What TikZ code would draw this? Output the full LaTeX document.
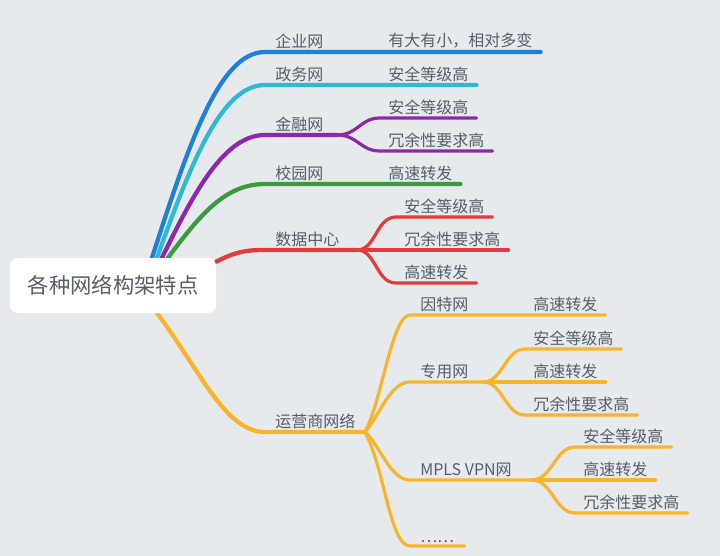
\documentclass[tikz,border=0pt]{standalone}
\usepackage{fontspec}
\setmainfont{Noto Sans CJK SC}
\usepackage{xcolor}
\usetikzlibrary{backgrounds}

\definecolor{bgc}{HTML}{E7EAED}
\definecolor{txt}{HTML}{555F68}
\definecolor{cblue}{HTML}{1E80DA}
\definecolor{ccyan}{HTML}{2DBAD2}
\definecolor{cpurple}{HTML}{8E27AC}
\definecolor{cgreen}{HTML}{3A9A3C}
\definecolor{cred}{HTML}{E23B3B}
\definecolor{corange}{HTML}{F8B42C}

\begin{document}
\begin{tikzpicture}[
    x=0.75pt, y=-0.75pt,
    font=\fontsize{12}{14}\selectfont, text=txt,
    root/.style={fill=white, rounded corners=6pt,
        minimum width=154.5pt, minimum height=41.25pt,
        font=\fontsize{16}{19}\selectfont},
    lbl/.style={anchor=south west, inner xsep=7.5pt, inner ysep=2.5pt},
    leaf/.style={anchor=south west, inner xsep=6pt, inner ysep=2.5pt},
    br/.style={draw=#1, line width=3.2pt, line cap=round},
    sub/.style={draw=#1, line width=2.4pt, line cap=round},
]
\useasboundingbox (0,0) rectangle (720,556);
\node[root] (root) at (113,285.5) {各种网络构架特点};
%% first level
\node[lbl] (ent)  at (265,52)  {企业网};
\node[lbl] (gov)  at (265,85)  {政务网};
\node[lbl] (fin)  at (265,135) {金融网};
\node[lbl] (cam)  at (265,184) {校园网};
\node[lbl] (dc)   at (265,250) {数据中心};
\node[lbl] (isp)  at (265,432) {运营商网络};
%% second level
\node[lbl] (inet) at (410,315) {因特网};
\node[lbl] (pri)  at (410,382) {专用网};
\node[lbl] (mpls) at (410,480) {MPLS VPN网};
\node[lbl] (more) at (410,546) {……};
%% leaves
\node[leaf] (ent-a)  at (380,52)  {有大有小，相对多变};
\node[leaf] (gov-a)  at (380,85)  {安全等级高};
\node[leaf] (fin-a)  at (380,118) {安全等级高};
\node[leaf] (fin-b)  at (380,151) {冗余性要求高};
\node[leaf] (cam-a)  at (380,184) {高速转发};
\node[leaf] (dc-a)   at (396,217) {安全等级高};
\node[leaf] (dc-b)   at (396,250) {冗余性要求高};
\node[leaf] (dc-c)   at (396,283) {高速转发};
\node[leaf] (inet-a) at (525,315) {高速转发};
\node[leaf] (pri-a)  at (525,349) {安全等级高};
\node[leaf] (pri-b)  at (525,382) {高速转发};
\node[leaf] (pri-c)  at (525,415) {冗余性要求高};
\node[leaf] (mpls-a) at (575,447) {安全等级高};
\node[leaf] (mpls-b) at (575,480) {高速转发};
\node[leaf] (mpls-c) at (575,513) {冗余性要求高};
%% junctions
\coordinate (fin-j)  at (337,135);
\coordinate (dc-j)   at (357,250);
\coordinate (isp-j)  at (365,432);
\coordinate (pri-j)  at (483,382);
\coordinate (mpls-j) at (532,480);

\begin{scope}[on background layer]
\fill[bgc] (0,0) rectangle (720,556);
%% branches
\draw[br=cblue]   ([xshift=29.25pt]root.north) .. controls (190,140) and (220,52) .. (ent.south west) -- (ent-a.south east);
\draw[br=ccyan]   ([xshift=33pt]root.north) .. controls (192,160) and (222,85) .. (gov.south west) -- (gov-a.south east);
\draw[br=cpurple] ([xshift=36.75pt]root.north) .. controls (195,190) and (225,135) .. (fin.south west) -- (fin-j);
\draw[br=cgreen]  ([xshift=41.25pt]root.north) .. controls (200,215) and (225,184) .. (cam.south west) -- (cam-a.south east);
\draw[br=cred]    ([yshift=-3pt]root.north east) .. controls (235,252) and (245,250) .. (dc.south west) -- (dc-j);
\draw[br=corange] ([xshift=33pt]root.south) .. controls (200,370) and (225,432) .. (isp.south west) -- (isp-j);
%% 金融网
\draw[sub=cpurple] (fin-j) .. controls (358,135) and (360,118) .. (fin-a.south west) -- (fin-a.south east);
\draw[sub=cpurple] (fin-j) .. controls (358,135) and (360,151) .. (fin-b.south west) -- (fin-b.south east);
%% 数据中心
\draw[sub=cred] (dc-j) .. controls (376,250) and (376,217) .. (dc-a.south west) -- (dc-a.south east);
\draw[sub=cred] (dc-j) -- (dc-b.south east);
\draw[sub=cred] (dc-j) .. controls (376,250) and (376,283) .. (dc-c.south west) -- (dc-c.south east);
%% 运营商网络
\draw[sub=corange] (isp-j) .. controls (382,400) and (392,315) .. (inet.south west) -- (inet-a.south east);
\draw[sub=corange] (isp-j) .. controls (380,415) and (390,382) .. (pri.south west) -- (pri-j);
\draw[sub=corange] (isp-j) .. controls (380,445) and (390,480) .. (mpls.south west) -- (mpls-j);
\draw[sub=corange] (isp-j) .. controls (385,470) and (390,546) .. (more.south west) -- (more.south east);
\draw[sub=corange] (pri-j) .. controls (503,382) and (505,349) .. (pri-a.south west) -- (pri-a.south east);
\draw[sub=corange] (pri-j) -- (pri-b.south east);
\draw[sub=corange] (pri-j) .. controls (503,382) and (505,415) .. (pri-c.south west) -- (pri-c.south east);
\draw[sub=corange] (mpls-j) .. controls (552,480) and (555,447) .. (mpls-a.south west) -- (mpls-a.south east);
\draw[sub=corange] (mpls-j) -- (mpls-b.south east);
\draw[sub=corange] (mpls-j) .. controls (552,480) and (555,513) .. (mpls-c.south west) -- (mpls-c.south east);
\end{scope}
\end{tikzpicture}
\end{document}
